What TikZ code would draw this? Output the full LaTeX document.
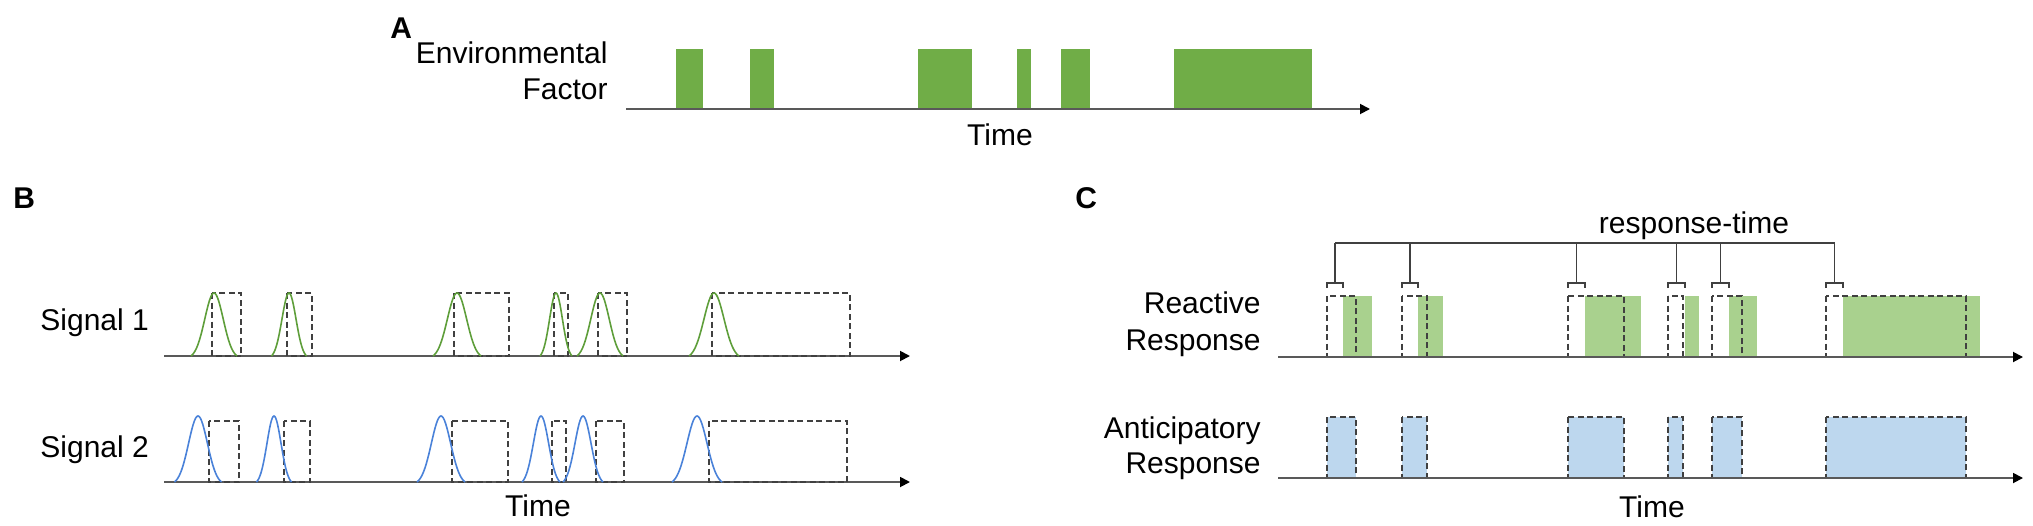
\documentclass[tikz,border=0pt]{standalone}
\usepackage{fontspec}
\setmainfont{Liberation Sans}
\usetikzlibrary{arrows.meta}
\definecolor{agreen}{HTML}{70AD47}
\definecolor{lgreen}{HTML}{A9D18E}
\definecolor{lblue}{HTML}{BDD7EE}
\definecolor{sigone}{HTML}{5E9E3A}
\definecolor{sigtwo}{HTML}{4A82D9}
\definecolor{axisgray}{HTML}{595959}
\definecolor{dashgray}{HTML}{404040}
\begin{document}
\begin{tikzpicture}[x=0.5pt,y=-0.5pt,
  lbl/.style={font=\fontsize{15}{18}\selectfont, inner sep=0pt},
  panel/.style={font=\fontsize{15}{18}\selectfont\bfseries, inner sep=0pt, anchor=base west},
  axisline/.style={draw=axisgray, line width=0.9pt, -{Triangle[length=5pt,width=5pt,color=black]}},
  dbox/.style={draw=dashgray, line width=0.9pt, dash pattern=on 3pt off 1.75pt},
  bracketline/.style={draw=dashgray, line width=0.6pt},
  curveone/.style={draw=sigone, line width=0.8pt},
  curvetwo/.style={draw=sigtwo, line width=0.8pt}]
\useasboundingbox (0,0) rectangle (2033,525);

% ---------------- Panel A ----------------
\node[panel] (labA) at (390,38) {A};
\node[lbl, anchor=base east] (envA) at (608,63) {Environmental};
\node[lbl, anchor=base east] (envB) at (608,99) {Factor};
\foreach \s/\e in {676/703, 750/774, 918/972, 1017/1031, 1061/1090, 1174/1312}
  \fill[agreen] (\s,49) rectangle (\e,109);
\coordinate (axAs) at (626,109);
\coordinate (axAe) at (1370,109);
\draw[axisline] (axAs) -- (axAe);
\node[lbl, anchor=base] (timeA) at (1000,145) {Time};

% ---------------- Panel B ----------------
\node[panel] (labB) at (13,208) {B};
\node[lbl, anchor=base west] (sigA) at (40,330) {Signal 1};
\node[lbl, anchor=base west] (sigB) at (40,457) {Signal 2};
% signal 1
\coordinate (axBs) at (164,356);
\coordinate (axBe) at (910,356);
\draw[axisline] (axBs) -- (axBe);
\foreach \s/\e in {212/241, 287/312, 454/509, 554/568, 598/627, 712/850}
  \draw[dbox] (\s,293) rectangle (\e,356);
\foreach \c/\w in {214/23, 289/17.5, 457/24, 556/16, 600/23, 714/25}
  \draw[curveone] plot[domain=-1:1, samples=41]
    ({\c+\w*\x}, {356-63*(exp(-3.125*(\x)*(\x))-0.04394)/(1-0.04394)});
% signal 2
\coordinate (axCs) at (164,482);
\coordinate (axCe) at (910,482);
\draw[axisline] (axCs) -- (axCe);
\foreach \s/\e in {209/239, 284/310, 452/508, 552/566, 596/624, 709/847}
  \draw[dbox] (\s,421) rectangle (\e,482);
\foreach \c/\w in {198/23.5, 274/17.5, 441/24, 541/19, 583/20, 697/25}
  \draw[curvetwo] plot[domain=-1:1, samples=41]
    ({\c+\w*\x}, {482-66*(exp(-3.125*(\x)*(\x))-0.04394)/(1-0.04394)});
\node[lbl, anchor=base] (timeB) at (538,516) {Time};

% ---------------- Panel C ----------------
\node[panel] (labC) at (1075,208) {C};
\node[lbl, anchor=base] (rt) at (1694,233) {response-time};
\node[lbl, anchor=base east] (reA) at (1261,313) {Reactive};
\node[lbl, anchor=base east] (reB) at (1261,350) {Response};
\node[lbl, anchor=base east] (anA) at (1261,438) {Anticipatory};
\node[lbl, anchor=base east] (anB) at (1261,473) {Response};
% reactive
\foreach \s/\e in {1343/1372, 1418/1443, 1585/1641, 1685/1699, 1729/1757, 1843/1980}
  \fill[lgreen] (\s,296) rectangle (\e,357);
\foreach \s/\e in {1327/1356, 1402/1427, 1568/1624, 1668/1683, 1712/1742, 1826/1966}
  \draw[dbox] (\s,296) rectangle (\e,357);
\coordinate (axDs) at (1278,357);
\coordinate (axDe) at (2023,357);
\draw[axisline] (axDs) -- (axDe);
% response-time brackets
\coordinate (brL) at (1335,243);
\coordinate (brR) at (1835,243);
\draw[bracketline] (brL) -- (brR);
\foreach \s/\g [count=\i] in {1327/1343, 1402/1418, 1568/1585, 1668/1685, 1712/1729, 1826/1843}{
  \coordinate (tt\i) at ({(\s+\g)/2},243);
  \coordinate (tb\i) at ({(\s+\g)/2},283);
  \draw[bracketline] (tt\i) -- (tb\i);
  \draw[bracketline] (\s,288) -- (\s,283) -- (\g,283) -- (\g,288);
}
% anticipatory
\foreach \s/\e in {1327/1356, 1402/1427, 1568/1624, 1668/1683, 1712/1742, 1826/1966}{
  \fill[lblue] (\s,417) rectangle (\e,478);
  \draw[dbox] (\s,417) rectangle (\e,478);
}
\coordinate (axEs) at (1278,478);
\coordinate (axEe) at (2023,478);
\draw[axisline] (axEs) -- (axEe);
\node[lbl, anchor=base] (timeC) at (1652,517) {Time};
\end{tikzpicture}
\end{document}
